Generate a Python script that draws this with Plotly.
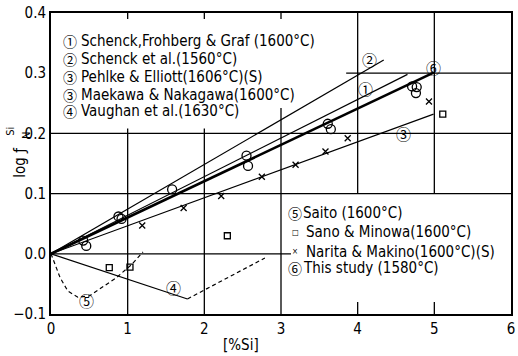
import plotly.graph_objects as go

# ---------------- data ----------------
this_x = [0.42, 0.46, 0.88, 0.92, 1.58, 2.55, 2.57, 3.61, 3.65, 4.71, 4.77, 4.76]
this_y = [0.022, 0.013, 0.062, 0.058, 0.107, 0.163, 0.146, 0.216, 0.207, 0.278, 0.277, 0.267]

sano_x = [0.76, 1.03, 2.30, 5.11]
sano_y = [-0.023, -0.022, 0.030, 0.232]

narita_x = [1.19, 1.73, 2.22, 2.75, 3.19, 3.58, 3.87, 4.93]
narita_y = [0.047, 0.076, 0.096, 0.128, 0.148, 0.170, 0.192, 0.253]

line1_x = [0, 4.65]; line1_y = [0, 0.298]   # Schenck, Frohberg & Graf
line2_x = [0, 4.34]; line2_y = [0, 0.322]   # Schenck et al.
line3_x = [0, 4.99]; line3_y = [0, 0.232]   # Pehlke & Elliott / Maekawa & Nakagawa
line6_x = [0, 4.99]; line6_y = [0, 0.301]   # This study
line4_x = [0, 1.78]; line4_y = [0, -0.075]  # Vaughan et al.
line4d_x = [1.78, 2.79]; line4d_y = [-0.075, -0.007]
saito_x = [0, 0.05, 0.12, 0.22, 0.35, 0.5, 0.65, 0.85, 1.05, 1.2]
saito_y = [0, -0.016, -0.04, -0.062, -0.072, -0.07, -0.057, -0.04, -0.018, 0.003]

x_ticks = [0, 1, 2, 3, 4, 5, 6]
y_ticks = [-0.1, 0.0, 0.1, 0.2, 0.3, 0.4]
y_tick_text = ["\u22120.1", "0.0", "0.1", "0.2", "0.3", "0.4"]

top_nums = ["\u2460", "\u2461", "\u2462", "\u2462", "\u2463"]
top_legend = ["Schenck,Frohberg & Graf (1600\u00b0C)",
              "Schenck et al.(1560\u00b0C)",
              "Pehlke & Elliott(1606\u00b0C)(S)",
              "Maekawa & Nakagawa(1600\u00b0C)",
              "Vaughan et al.(1630\u00b0C)"]
low_symbols = ["\u2464", "\u25a1", "\u00d7", "\u2465"]
low_legend = ["Saito (1600\u00b0C)",
              "Sano & Minowa(1600\u00b0C)",
              "Narita & Makino(1600\u00b0C)(S)",
              "This study (1580\u00b0C)"]

FONT = "DejaVu Sans Condensed, Liberation Sans Narrow, DejaVu Sans"
CIRC = "Noto Sans CJK JP, DejaVu Sans"
BLK = "black"

fig = go.Figure()

def line(x, y, w=1.2, dash="solid"):
    fig.add_trace(go.Scatter(x=x, y=y, mode="lines",
                             line=dict(color=BLK, width=w, dash=dash),
                             showlegend=False, hoverinfo="skip"))

line(line2_x, line2_y)
line(line1_x, line1_y)
line(line6_x, line6_y, w=2.6)
line(line3_x, line3_y)
line(line4_x, line4_y)
line(line4d_x, line4d_y, dash="4px,3px")
line(saito_x, saito_y, dash="4px,3px")

fig.add_trace(go.Scatter(x=this_x, y=this_y, mode="markers",
                         marker=dict(symbol="circle-open", size=9, color=BLK, line=dict(width=1.3)),
                         showlegend=False))
fig.add_trace(go.Scatter(x=sano_x, y=sano_y, mode="markers",
                         marker=dict(symbol="square-open", size=6, color=BLK, line=dict(width=1.3)),
                         showlegend=False))
fig.add_trace(go.Scatter(x=narita_x, y=narita_y, mode="markers",
                         marker=dict(symbol="x-thin-open", size=6, color=BLK, line=dict(width=1.3)),
                         showlegend=False))

# partial grid lines (gaps where the legend blocks sit)
grid = [
    (3.85, 0.3, 6, 0.3), (0, 0.2, 6, 0.2), (0, 0.1, 6, 0.1), (0, 0.0, 3.13, 0.0),
    (1, -0.1, 1, 0.208), (2, -0.1, 2, 0.208), (3, -0.1, 3, 0.242),
    (4, 0.1, 4, 0.4), (5, 0.1, 5, 0.4), (4, -0.1, 4, -0.08), (5, -0.1, 5, -0.08),
    (1, 0.4, 1, 0.39), (2, 0.4, 2, 0.39), (3, 0.4, 3, 0.39),
]
for x0, y0, x1, y1 in grid:
    fig.add_shape(type="line", x0=x0, y0=y0, x1=x1, y1=y1, xref="x", yref="y",
                  line=dict(color=BLK, width=1.3), layer="below")

ann = []
# circled labels on the curves
for t, x, y in [("\u2460", 4.1, 0.275), ("\u2461", 4.15, 0.323), ("\u2465", 4.99, 0.31),
                ("\u2462", 4.6, 0.2), ("\u2463", 1.6, -0.056), ("\u2464", 0.46, -0.078)]:
    ann.append(dict(x=x, y=y, xref="x", yref="y", text=t, showarrow=False,
                    font=dict(size=15, color=BLK, family=CIRC)))

top_y = [0.354, 0.324, 0.294, 0.264, 0.237]
for n, t, y in zip(top_nums, top_legend, top_y):
    ann.append(dict(x=0.13, y=y, xref="x", yref="y", text=n, showarrow=False, xanchor="left",
                    font=dict(size=14, color=BLK, family=CIRC)))
    ann.append(dict(x=0.37, y=y, xref="x", yref="y", text=t, showarrow=False, xanchor="left",
                    font=dict(size=15, color=BLK, family=FONT)))

low_y = [0.067, 0.036, 0.003, -0.024]
for s, t, y in zip(low_symbols, low_legend, low_y):
    big = s in "\u2464\u2465"
    ann.append(dict(x=3.06 if big else 3.12, y=y, xref="x", yref="y", text=s, showarrow=False,
                    xanchor="left",
                    font=dict(size=14 if big else 8, color=BLK, family=CIRC if big else FONT)))
    ann.append(dict(x=3.26 if big else 3.3, y=y, xref="x", yref="y", text=t, showarrow=False,
                    xanchor="left", font=dict(size=15, color=BLK, family=FONT)))

ann.append(dict(x=0.414, y=-0.103, xref="paper", yref="paper", text="[%Si]", showarrow=False,
                yanchor="middle", xanchor="center",
                font=dict(size=15, color=BLK, family=FONT)))
# y-axis title: log f with subscript N and superscript Si stacked
ann.append(dict(x=-0.068, y=0.505, xref="paper", yref="paper", textangle=-90,
                text="log \u0192", showarrow=False, xanchor="center", yanchor="middle",
                font=dict(size=15, color=BLK, family=FONT)))
ann.append(dict(x=-0.052, y=0.592, xref="paper", yref="paper", textangle=-90,
                text="N", showarrow=False, xanchor="center", yanchor="middle",
                font=dict(size=11, color=BLK, family=FONT)))
ann.append(dict(x=-0.088, y=0.607, xref="paper", yref="paper", textangle=-90,
                text="Si", showarrow=False, xanchor="center", yanchor="middle",
                font=dict(size=11, color=BLK, family=FONT)))

fig.update_layout(
    width=518, height=356,
    margin=dict(l=51, r=3, t=13, b=42),
    paper_bgcolor="white", plot_bgcolor="white",
    showlegend=False,
    annotations=ann,
    xaxis=dict(range=[0, 6], tickvals=x_ticks, showgrid=False, zeroline=False,
               showline=True, linecolor=BLK, linewidth=2, mirror=True, ticks="",
               tickfont=dict(size=15, color=BLK, family=FONT)),
    yaxis=dict(range=[-0.1, 0.4], tickvals=y_ticks, ticktext=y_tick_text, showgrid=False,
               zeroline=False, showline=True, linecolor=BLK, linewidth=2, mirror=True, ticks="",
               tickfont=dict(size=15, color=BLK, family=FONT)),
)

fig.write_html("out.html")
